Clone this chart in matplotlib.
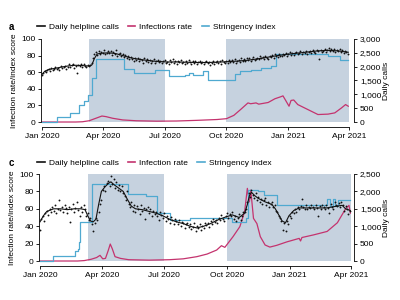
import numpy as np
import matplotlib.pyplot as plt
import matplotlib.dates as mdates
import matplotlib.ticker as mticker
from matplotlib.lines import Line2D

plt.rcParams['font.family'] = ['Liberation Sans', 'DejaVu Sans']
plt.rcParams['font.size'] = 6

START = np.datetime64('2020-01-01')

# ---- panel a ----
# daily calls, one dot every 2nd day from 1 Jan 2020
a_dot_days = list(range(0, 456, 2))
a_dots = [1690, 1760, 1850, 1800, 1880, 1930, 1860, 1950, 1890, 1920,
          1990, 1900, 1960, 1870, 2010, 1940, 1980, 2040, 1930, 1970,
          2080, 1990, 2050, 2100, 1960, 2030, 1780, 2070, 2020, 2110,
          2000, 2080, 2030, 1990, 2060, 2010, 2050, 2120, 2310, 2440,
          2520, 2430, 2560, 2470, 2540, 2480, 2600, 2450, 2510, 2570,
          2480, 2550, 2430, 2520, 2460, 2590, 2400, 2470, 2510, 2380,
          2440, 2350, 2410, 2300, 2380, 2260, 2340, 2290, 2210, 2320,
          2250, 2330, 2190, 2270, 2230, 2150, 2300, 2210, 2260, 2180,
          2240, 2150, 2220, 2280, 2120, 2190, 2250, 2160, 2210, 2130,
          2200, 2240, 2130, 2180, 2100, 2230, 2170, 2260, 2140, 2190,
          2110, 2210, 2160, 2240, 2130, 2180, 2090, 2200, 2150, 2230,
          2170, 2100, 2220, 2140, 2190, 2080, 2160, 2210, 2120, 2180,
          2090, 2170, 2220, 2130, 2180, 2060, 2150, 2200, 2110, 2170,
          2220, 2130, 2190, 2100, 2240, 2170, 2120, 2210, 2150, 2250,
          2160, 2230, 2180, 2270, 2140, 2220, 2250, 2170, 2300, 2200,
          2260, 2190, 2300, 2240, 2330, 2210, 2280, 2350, 2240, 2290,
          2330, 2260, 2380, 2300, 2350, 2270, 2400, 2330, 2290, 2380,
          2360, 2420, 2330, 2450, 2390, 2340, 2460, 2400, 2380, 2470,
          2420, 2490, 2380, 2460, 2530, 2430, 2500, 2410, 2480, 2540,
          2460, 2510, 2570, 2440, 2530, 2490, 2580, 2470, 2520, 2560,
          2500, 2590, 2540, 2480, 2610, 2550, 2280, 2600, 2520, 2570,
          2630, 2540, 2600, 2660, 2560, 2620, 2580, 2650, 2530, 2610,
          2570, 2640, 2530, 2600, 2490, 2560, 2520, 2470]
a_trend_days = [0, 4, 10, 20, 30, 40, 50, 60, 70, 74, 78, 82, 90, 100, 110, 120, 130,
                140, 155, 170, 185, 200, 215, 230, 245, 260, 275, 290, 305, 320, 335,
                350, 365, 380, 395, 410, 425, 440, 455]
a_trend = [1720, 1830, 1900, 1940, 1990, 2030, 2050, 2040, 2020, 2060, 2300, 2460, 2490,
           2500, 2470, 2400, 2330, 2280, 2230, 2190, 2170, 2170, 2160, 2150, 2150, 2160,
           2180, 2200, 2230, 2280, 2340, 2400, 2450, 2490, 2530, 2570, 2590, 2570, 2520]
a_str_days = [0, 23, 42, 55, 62, 68, 74, 80, 122, 136, 168, 188, 213, 218, 224, 239,
              247, 287, 294, 310, 325, 340, 348, 425, 443, 455]
a_str = [0, 5.6, 11, 20, 25, 33, 53, 76, 64, 59, 63, 55, 57, 59, 57, 61,
         50, 58, 61, 63, 65, 67, 82, 79, 75, 75]
a_inf_days = [0, 50, 60, 70, 80, 89, 95, 105, 120, 140, 170, 200, 230, 260, 274, 285,
              295, 306, 310, 318, 322, 336, 346, 355, 358, 362, 367, 370, 374, 380,
              395, 410, 425, 435, 445, 451, 455]
a_inf = [0, 0, 0.3, 1.5, 4.5, 7.2, 6.5, 4.5, 2.5, 1.5, 1.0, 1.2, 2.0, 3.0, 4.0, 8,
         15, 23, 22, 23, 21.5, 23.5, 28, 30.5, 31.5, 26, 19, 26, 26.5, 21,
         15, 9, 9.5, 11, 17, 21, 19]

# ---- panel c ----
c_dot_days = list(range(0, 456, 2))
c_dots = [900, 1200, 1280, 1150, 1390, 1450, 1330, 1500, 1420, 1560,
          1450, 1620, 1380, 1500, 1740, 1470, 1550, 1400, 1600, 1520,
          1380, 1560, 1130, 1490, 1650, 1420, 1530, 1700, 1460, 1300,
          1560, 1420, 1610, 1480, 1300, 1390, 1180, 1250, 1050, 850,
          1100, 1250, 1180, 1400, 1650, 1750, 2050, 2150, 2000, 2250,
          2300, 2150, 2450, 2200, 2350, 2100, 2280, 2050, 2180, 2000,
          2150, 1950, 1880, 1750, 2000, 1650, 1550, 1700, 1450, 1600,
          1400, 1580, 1500, 1350, 1620, 1450, 1530, 1200, 1480, 1560,
          1380, 1500, 1300, 1450, 1350, 1420, 1280, 1180, 1400, 1330,
          1250, 1380, 1150, 1300, 1220, 1100, 1260, 1180, 1050, 1200,
          1150, 1050, 1180, 1000, 1120, 1080, 950, 1060, 1100, 980,
          1050, 920, 980, 1080, 850, 1000, 940, 1050, 900, 1020,
          960, 1100, 1030, 1080, 980, 1150, 1060, 1200, 1120, 1180,
          1100, 1250, 1180, 1320, 1220, 1150, 1300, 1380, 1240, 1350,
          1280, 1400, 1200, 1300, 1150, 1250, 1350, 1180, 1300, 1400,
          1420, 1500, 1700, 1950, 1850, 2050, 1900, 1800, 1950, 1750,
          1850, 1700, 1780, 1650, 1750, 1800, 1600, 1700, 1550, 1650,
          1700, 1550, 1600, 1450, 1400, 1300, 1250, 1150, 900, 1100,
          850, 1150, 1050, 1300, 1250, 1400, 1380, 1480, 1420, 1550,
          1500, 1580, 1780, 1550, 1500, 1620, 1480, 1550, 1520, 1600,
          1550, 1480, 1600, 1530, 1300, 1570, 1500, 1620, 1540, 1480,
          1600, 1530, 1380, 1650, 1560, 1500, 1700, 1620, 1580, 1680,
          1550, 1700, 1620, 1450, 1580, 1500, 1350, 1450]
c_trend_days = [0, 5, 10, 20, 30, 40, 50, 60, 66, 70, 74, 78, 82, 86, 90, 95, 100, 104,
                108, 115, 122, 128, 134, 140, 150, 160, 170, 180, 190, 200, 210, 220,
                230, 240, 250, 260, 270, 282, 292, 300, 304, 307, 310, 315, 320, 330,
                340, 345, 350, 355, 360, 365, 372, 380, 400, 420, 435, 443, 448, 455]
c_trend = [1125, 1300, 1425, 1500, 1500, 1475, 1500, 1500, 1475, 1300, 1150, 1125, 1200,
           1625, 2000, 2125, 2225, 2275, 2200, 2100, 2000, 1775, 1575, 1500, 1475, 1425,
           1375, 1300, 1200, 1125, 1075, 1000, 950, 1000, 1075, 1175, 1250, 1325, 1250,
           1375, 1625, 1875, 1975, 1875, 1800, 1700, 1625, 1500, 1325, 1150, 1100, 1300,
           1450, 1525, 1525, 1525, 1575, 1600, 1500, 1450]
c_str_days = [0, 19, 52, 55, 57, 59, 76, 129, 156, 171, 191, 220, 282, 302, 305, 320,
              328, 348, 421, 425, 429, 433, 437, 455]
c_str = [0, 5.7, 11, 14, 22, 44.5, 88.5, 77.5, 75, 55, 47, 49, 45, 49, 82, 80,
         76, 64, 71, 63, 71, 63, 70, 70]
c_inf_days = [0, 55, 65, 75, 83, 88, 92, 96, 100, 103, 106, 110, 118, 130, 160, 190,
              210, 230, 245, 259, 266, 271, 283, 293, 300, 304, 307, 309, 313, 318,
              323, 330, 337, 347, 362, 380, 382, 384, 401, 421, 436, 448, 453, 455]
c_inf = [0, 0, 0.5, 2, 4, 6.5, 2.5, 3, 12, 19.5, 14, 5, 3, 1.5, 1, 1.5,
         2.5, 5, 8, 12.6, 17.6, 15.7, 28, 39.5, 56.7, 83.5, 68, 81.5, 49, 43,
         28, 18.4, 16, 18, 22, 26, 23, 27, 30, 34, 44, 60, 64, 55]

tick_dates = ['2020-01-01', '2020-04-01', '2020-07-01', '2020-10-01', '2021-01-01', '2021-04-01']
tick_labels = ['Jan 2020', 'Apr 2020', 'Jul 2020', 'Oct 2020', 'Jan 2021', 'Apr 2021']
shade_periods = [('2020-03-11', '2020-07-01'), ('2020-10-01', '2021-04-01')]

BLACK = '#111111'
PINK = '#c4336e'
BLUE = '#4fa9d0'
SHADE = '#c6d2df'


def dates(days):
    return START + np.array(days).astype('timedelta64[D]')


def num(d):
    return mdates.date2num(np.datetime64(d))


def draw_panel(rect, xlim, ylo, calls_max, letter, inf_label, leg_y,
               dot_days, dots, trend_days, trend, str_days, strv, inf_days, inf):
    ax = fig.add_axes(rect)
    ax.set_xlim(dates([xlim[0]])[0], dates([xlim[1]])[0])
    ax.set_ylim(ylo, 105)
    for s, e in shade_periods:
        ax.fill_between([np.datetime64(s), np.datetime64(e)], 0, 100,
                        color=SHADE, lw=0, zorder=0)
    ax.plot(dates(inf_days), inf, color=PINK, lw=0.9, zorder=2)
    ax.step(dates(str_days), strv, where='post', color=BLUE, lw=0.9, zorder=3)

    ax2 = ax.twinx()
    scale = calls_max / 100
    ax2.set_ylim(ylo * scale, 105 * scale)
    ax2.scatter(dates(dot_days), dots, s=1.8, color=BLACK, lw=0, zorder=3)
    ax2.plot(dates(trend_days), trend, color=BLACK, lw=0.8, zorder=4)

    ax.set_xticks([np.datetime64(d) for d in tick_dates])
    ax.set_xticklabels(tick_labels)
    ax.set_yticks([0, 20, 40, 60, 80, 100])
    ax2.set_yticks(np.arange(0, calls_max + 1, 500))
    ax2.yaxis.set_major_formatter(mticker.StrMethodFormatter('{x:,.0f}'))

    for a in (ax, ax2):
        a.spines['top'].set_visible(False)
        for sp in a.spines.values():
            sp.set_linewidth(0.6)
        a.tick_params(direction='out', length=2.5, width=0.6, pad=1.5, labelsize=6)
    ax.spines['right'].set_visible(False)
    ax2.spines['left'].set_visible(False)
    ax2.spines['bottom'].set_visible(False)
    ax.spines['left'].set_bounds(0, 100)
    ax2.spines['right'].set_bounds(0, calls_max)
    ax.spines['bottom'].set_bounds(num(tick_dates[0]), num(tick_dates[-1]))

    ax.set_ylabel('Infection rate/index score', fontsize=6, labelpad=2.5)
    ax2.set_ylabel('Daily calls', fontsize=6, labelpad=1.5)

    handles = [Line2D([], [], color=BLACK, lw=1.2),
               Line2D([], [], color=PINK, lw=1.2),
               Line2D([], [], color=BLUE, lw=1.2)]
    fig.legend(handles, ['Daily helpline calls', inf_label, 'Stringency index'],
               loc='center left', bbox_to_anchor=(37 / 400, 1 - leg_y / 300),
               ncol=3, frameon=False, handlelength=0.9, handletextpad=0.5,
               columnspacing=1.1, borderpad=0, borderaxespad=0, fontsize=6)
    fig.text(9 / 400, 1 - leg_y / 300, letter, fontsize=7, fontweight='bold',
             va='center', ha='left')


fig = plt.figure(figsize=(4, 3), dpi=100)
draw_panel([0.1033, 0.5767, 0.7825, 0.3072], (-1, 464), -6, 3000, 'a',
           'Infections rate', 27, a_dot_days, a_dots, a_trend_days, a_trend,
           a_str_days, a_str, a_inf_days, a_inf)
draw_panel([0.0983, 0.1133, 0.7878, 0.3212], (-1, 461), -5.75, 2500, 'c',
           'Infection rate', 163, c_dot_days, c_dots, c_trend_days, c_trend,
           c_str_days, c_str, c_inf_days, c_inf)

fig.savefig('out.png', dpi=100)
